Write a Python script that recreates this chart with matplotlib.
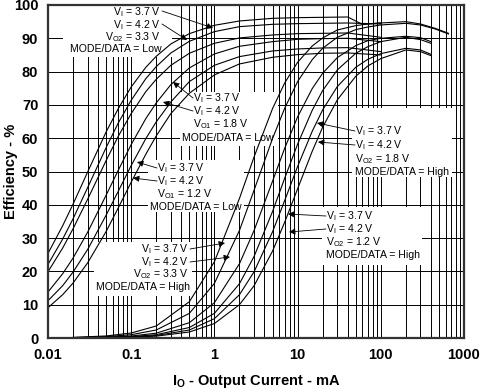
import numpy as np
import matplotlib
matplotlib.use('Agg')
import matplotlib.pyplot as plt
from matplotlib.patches import Rectangle

plt.rcParams['font.family'] = 'Liberation Sans'
plt.rcParams['mathtext.fontset'] = 'custom'
plt.rcParams['mathtext.rm'] = 'Liberation Sans'
plt.rcParams['mathtext.it'] = 'Liberation Sans'
plt.rcParams['mathtext.bf'] = 'Liberation Sans:bold'

# ---- data (current in mA, efficiency in %) ----
# MODE/DATA = Low (power save)
low_current = [0.01, 0.015, 0.02, 0.03, 0.05, 0.07, 0.1, 0.15, 0.2, 0.3, 0.5, 1, 2, 5, 10, 20, 40, 100]
low_33_42 = [22.1, 29.7, 35.8, 45.2, 57.2, 64.6, 71.4, 77.9, 81.5, 85.6, 89.1, 92.0, 93.5, 94.2, 94.4, 94.5, 94.6, 94.3]
low_18_37 = [19.9, 27.0, 32.8, 41.7, 53.3, 60.6, 67.4, 74.0, 77.7, 81.9, 85.5, 88.5, 90.1, 91.0, 91.4, 91.5, 91.6, 90.3]
low_18_42 = [13.8, 19.3, 24.0, 31.8, 42.9, 50.4, 58.1, 65.9, 70.6, 76.1, 81.1, 85.3, 87.6, 89.0, 89.7, 89.9, 90.0, 89.0]
low_12_37 = [11.2, 15.7, 19.8, 26.6, 36.9, 44.1, 51.8, 59.9, 64.9, 70.9, 77.0, 81.9, 84.5, 86.2, 86.8, 87.1, 87.2, 86.0]
low_12_42 = [9.1, 13.0, 16.5, 22.6, 32.0, 39.1, 46.8, 55.2, 60.7, 67.4, 73.5, 79.0, 82.3, 84.3, 85.1, 85.5, 85.6, 85.0]
# 3.3 V / 3.7 V drops onto the PWM curve above 40 mA
low_33_37_current = [0.01, 0.015, 0.02, 0.03, 0.05, 0.07, 0.1, 0.15, 0.2, 0.3, 0.5, 1, 2, 5, 10, 20, 40, 60, 100]
low_33_37 = [25.4, 33.7, 40.2, 49.9, 61.9, 68.9, 75.4, 81.3, 84.6, 88.3, 91.4, 93.9, 95.2, 96.0, 96.2, 96.3, 96.4, 94.2, 94.6]

# MODE/DATA = High (PWM)
high_current_33 = [0.02, 0.05, 0.1, 0.2, 0.5, 1, 2, 3, 5, 7, 10, 15, 20, 30, 50, 70, 100, 200, 300, 450, 650]
high_33_37 = [0.19, 0.61, 1.5, 3.6, 10.9, 22.9, 41.9, 54.4, 68.9, 76.6, 82.8, 87.7, 90.1, 92.5, 93.8, 94.3, 94.6, 95.0, 94.3, 93.0, 91.5]
high_33_42 = [0.12, 0.40, 1.0, 2.4, 7.4, 16.4, 32.3, 44.4, 59.9, 69.0, 77.0, 83.6, 87.0, 90.3, 92.6, 93.4, 94.0, 94.5, 94.0, 92.8, 91.3]
high_current = [0.02, 0.05, 0.1, 0.2, 0.5, 1, 2, 3, 5, 7, 10, 15, 20, 30, 50, 70, 100, 200, 300, 400]
high_18_37 = [0.07, 0.24, 0.6, 1.45, 4.6, 10.6, 22.3, 32.3, 47.1, 57.0, 66.4, 74.9, 79.5, 84.2, 87.8, 89.3, 90.0, 90.6, 90.2, 89.0]
high_18_42 = [0.05, 0.16, 0.4, 1.0, 3.15, 7.4, 16.3, 24.5, 38.0, 48.0, 58.2, 68.4, 74.3, 80.5, 85.5, 87.5, 89.0, 90.3, 89.6, 88.5]
high_12_37 = [0.04, 0.13, 0.31, 0.75, 2.4, 5.8, 13.0, 19.9, 31.9, 41.3, 51.5, 62.1, 68.5, 75.5, 81.3, 83.7, 85.4, 87.0, 86.5, 85.2]
high_12_42 = [0.03, 0.09, 0.23, 0.56, 1.8, 4.35, 10.0, 15.7, 26.1, 34.8, 44.8, 56.1, 63.3, 71.5, 78.6, 81.7, 83.9, 86.5, 86.0, 84.8]

x_ticks = [0.01, 0.1, 1, 10, 100, 1000]
x_tick_labels = ['0.01', '0.1', '1', '10', '100', '1000']
y_ticks = [0, 10, 20, 30, 40, 50, 60, 70, 80, 90, 100]

# ---- figure ----
W, H = 482, 392
fig = plt.figure(figsize=(W / 100, H / 100), dpi=100)
# axes box in reference pixels
L, R, T, B = 48, 464, 5, 338
ax = fig.add_axes([L / W, (H - B) / H, (R - L) / W, (B - T) / H])

def px(x, y):
    # reference pixel -> axes fraction
    return ((x - L) / (R - L), (B - y) / (B - T))

ax.set_xscale('log')
ax.set_xlim(0.01, 1000)
ax.set_ylim(0, 100)
ax.set_axisbelow(True)
ax.grid(True, which='both', axis='x', color='k', lw=0.7)
ax.grid(True, which='major', axis='y', color='k', lw=0.7)
ax.set_xticks(x_ticks)
ax.set_xticklabels(x_tick_labels)
ax.set_yticks(y_ticks)
ax.tick_params(which='both', length=0, labelsize=10.5, pad=7)
for lab in ax.get_xticklabels() + ax.get_yticklabels():
    lab.set_fontweight('bold')
for s in ax.spines.values():
    s.set_linewidth(1.6)
    s.set_color('#333333')

ax.set_xlabel(r'I$_\mathregular{O}$ - Output Current - mA', fontsize=10.5, fontweight='bold', labelpad=8)
ax.set_ylabel('Efficiency - %', fontsize=10.5, fontweight='bold')
ax.yaxis.set_label_coords(-0.072, 0.5)

# curves
lw = 0.8
ax.plot(low_33_37_current, low_33_37, color='k', lw=lw, zorder=2)
for y in [low_33_42, low_18_37, low_18_42, low_12_37, low_12_42]:
    ax.plot(low_current, y, color='k', lw=lw, zorder=2)
for y in [high_33_37, high_33_42]:
    ax.plot(high_current_33, y, color='k', lw=lw, zorder=2)
for y in [high_18_37, high_18_42, high_12_37, high_12_42]:
    ax.plot(high_current, y, color='k', lw=lw, zorder=2)

# white label areas that hide the grid
boxes = [(63, 5, 172, 57), (180, 92, 278, 146), (148, 160, 244, 212),
         (94, 242, 192, 296), (352, 108, 452, 177), (322, 207, 422, 265)]
for x0, y0, x1, y1 in boxes:
    a0 = px(x0, y1)
    a1 = px(x1, y0)
    ax.add_patch(Rectangle(a0, a1[0] - a0[0], a1[1] - a0[1], transform=ax.transAxes,
                           facecolor='white', edgecolor='none', zorder=1))

fs = 7.6
def label(x, y, s, ha='left'):
    ax.text(*px(x, y), s, transform=ax.transAxes, fontsize=fs, ha=ha, va='center', zorder=4)

def arrow(x0, y0, x1, y1):
    ax.annotate('', xy=px(x1, y1), xycoords='axes fraction', xytext=px(x0, y0),
                textcoords='axes fraction',
                arrowprops=dict(arrowstyle='-|>', color='k', lw=0.6, mutation_scale=9,
                                shrinkA=0, shrinkB=0), zorder=4)

vi37 = r'V$_\mathregular{I}$ = 3.7 V'
vi42 = r'V$_\mathregular{I}$ = 4.2 V'

# 3.3 V, Low
label(161, 12, vi37, 'right')
label(161, 25, vi42, 'right')
label(161, 37, r'V$_\mathregular{O2}$ = 3.3 V', 'right')
label(162, 49, 'MODE/DATA = Low', 'right')
arrow(162, 11, 213, 28)
arrow(162, 24, 187, 40)

# 1.8 V, Low
label(193, 98, vi37)
label(193, 111, vi42)
label(193, 124, r'V$_\mathregular{O1}$ = 1.8 V')
label(182, 138, 'MODE/DATA = Low')
arrow(193, 98, 173, 82)
arrow(193, 111, 163, 102)

# 1.2 V, Low
label(157, 168, vi37)
label(157, 181, vi42)
label(157, 194, r'V$_\mathregular{O1}$ = 1.2 V')
label(150, 207, 'MODE/DATA = Low')
arrow(157, 168, 137, 162)
arrow(157, 181, 133, 178)

# 3.3 V, High
label(189, 249, vi37, 'right')
label(189, 262, vi42, 'right')
label(189, 274, r'V$_\mathregular{O2}$ = 3.3 V', 'right')
label(190, 287, 'MODE/DATA = High', 'right')
arrow(190, 249, 225, 243)
arrow(190, 262, 230, 257)

# 1.8 V, High
label(355, 131, vi37)
label(355, 145, vi42)
label(355, 159, r'V$_\mathregular{O2}$ = 1.8 V')
label(355, 172, 'MODE/DATA = High')
arrow(355, 131, 317, 123)
arrow(355, 145, 318, 142)

# 1.2 V, High
label(326, 216, vi37)
label(326, 229, vi42)
label(326, 242, r'V$_\mathregular{O2}$ = 1.2 V')
label(326, 255, 'MODE/DATA = High')
arrow(326, 216, 288, 214)
arrow(326, 229, 289, 232)

fig.savefig('out.png', dpi=100)
